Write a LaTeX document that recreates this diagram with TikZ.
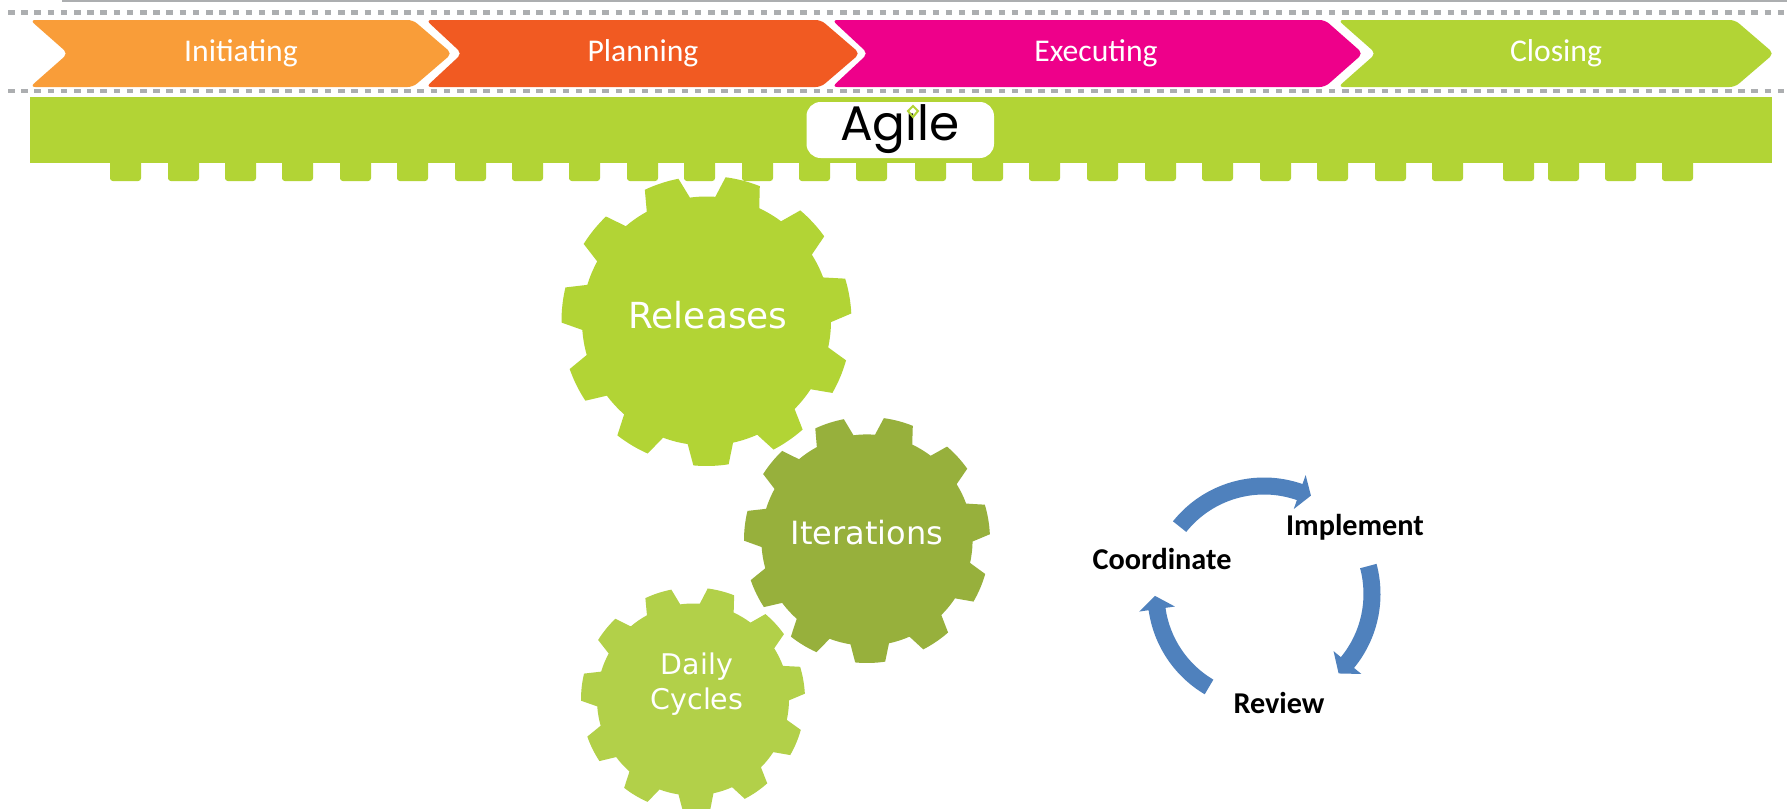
\documentclass[tikz,border=0pt]{standalone}
\usepackage{fontspec}
\setmainfont{Carlito}
\newfontfamily\GearFont{DejaVu Sans}
\newfontfamily\LogoFont{Poppins}
\usepackage{xcolor}
\definecolor{ColOrange}{RGB}{249,157,57}
\definecolor{ColRed}{RGB}{241,90,34}
\definecolor{ColPink}{RGB}{238,0,138}
\definecolor{ColGreen}{RGB}{178,212,53}
\definecolor{ColDark}{RGB}{151,176,60}
\definecolor{ColPale}{RGB}{178,208,73}
\definecolor{ColBlue}{RGB}{79,129,189}
\definecolor{ColGrey}{RGB}{172,174,176}
\tikzstyle{Phase}=[rounded corners=1.5pt]
\tikzstyle{PhaseText}=[text=white,inner sep=0pt,font=\fontsize{9}{11}\selectfont]
\tikzstyle{DotLine}=[ColGrey,line width=0.04cm,dash pattern=on 0.065cm off 0.067cm]
\tikzstyle{Tooth}=[ColGreen,rounded corners=0.8pt]
\tikzstyle{GearText}=[text=white,inner sep=0pt,align=center]
\tikzstyle{StepText}=[text=black,inner sep=0pt,font=\fontsize{8.6}{10}\selectfont\bfseries]
\newcommand{\DrawGear}[5]{%
\begin{scope}[shift={(#1)}]
\fill[#5](#4-7:#2)\foreach\k[evaluate=\k as \a using #4+\k*360/11]in{0,...,10}{
--(\a-7:#2)arc(\a-7:\a+7:#2)--(\a+10.5:#3)arc(\a+10.5:\a+22.23:#3)}--cycle;
\end{scope}}
\newcommand{\DrawCycle}[3]{%
\fill[ColBlue](#1:116.5)arc(#1:#2:116.5)--(#2:126)--(#3:109)--(#2:90)--(#2:99.5)arc(#2:#1:99.5)--cycle;}
\begin{document}
\begin{tikzpicture}[x=0.01cm,y=0.01cm]
        \useasboundingbox(0,0)rectangle(1787,-809);
        \fill[white](0,0)rectangle(1787,-809);
        % rules
        \coordinate(topL)at(62,-1);
        \coordinate(topR)at(1787,-1);
        \coordinate(dotAL)at(8,-12.5);
        \coordinate(dotAR)at(1787,-12.5);
        \coordinate(dotBL)at(8,-91);
        \coordinate(dotBR)at(1787,-91);
        \draw[ColGrey,line width=0.02cm](topL)--(topR);
        \draw[DotLine](dotAL)--(dotAR);
        \draw[DotLine](dotBL)--(dotBR);
        % phases
        \fill[Phase,ColOrange](30,-20)--(413,-20)--(452,-53.5)--(413,-87)--(30,-87)--(68,-53.5)--cycle;
        \fill[Phase,ColRed](426,-20)--(821,-20)--(860,-53.5)--(821,-87)--(426,-87)--(462,-53.5)--cycle;
        \fill[Phase,ColPink](832,-20)--(1325,-20)--(1363,-53.5)--(1325,-87)--(832,-87)--(868,-53.5)--cycle;
        \fill[Phase,ColGreen](1338,-20)--(1735,-20)--(1774,-53.5)--(1735,-87)--(1338,-87)--(1376,-53.5)--cycle;
        \node[PhaseText](init)at(241,-53){Initiating};
        \node[PhaseText](plan)at(643,-53){Planning};
        \node[PhaseText](exec)at(1096,-53){Executing};
        \node[PhaseText](close)at(1556,-53){Closing};
        % agile bar
        \foreach\x in{110,168,225,282,340,397,455,512,569,627,684,742,799,856,915,972,1029,1087,1145,1202,1260,1317,1375,1432,1503,1548,1605,1662}{
            \fill[Tooth](\x,-150)rectangle(\x+31,-181);
        }
        \fill[ColGreen](30,-97)rectangle(1772,-163);
        \fill[white,rounded corners=4pt](806.5,-102)rectangle(994,-158);
        \node[inner sep=0pt,font=\fontsize{13.8}{16}\selectfont\LogoFont](agile)at(900,-129){Ag\i le};
        \draw[ColGreen,line width=0.02cm](913,-106)--(918,-111)--(913,-117)--(908,-111)--cycle;
        % gears
        \DrawGear{706.5,-321}{145}{124.5}{-88.2}{ColGreen}
        \DrawGear{867,-540}{123}{105.6}{-88.5}{ColDark}
        \DrawGear{693,-699.5}{112}{96}{-88.2}{ColPale}
        \node[GearText,font=\fontsize{10.2}{12}\selectfont\GearFont](rel)at(708,-315){Releases};
        \node[GearText,font=\fontsize{9.1}{11}\selectfont\GearFont](iter)at(867,-533){Iterations};
        \node[GearText,font=\fontsize{8.1}{9.8}\selectfont\GearFont](daily)at(697,-684){Daily\\Cycles};
        % cycle
        \begin{scope}[shift={(1264,-594)}]
        \DrawCycle{141.4}{70.7}{64.5}
        \DrawCycle{15}{-39.4}{-46.8}
        \DrawCycle{239.4}{188}{181}
        \end{scope}
        \node[StepText](impl)at(1355,-527){Implement};
        \node[StepText](coord)at(1162,-559){Coordinate};
        \node[StepText](review)at(1279,-703){Review};
    \end{tikzpicture}
\end{document}
